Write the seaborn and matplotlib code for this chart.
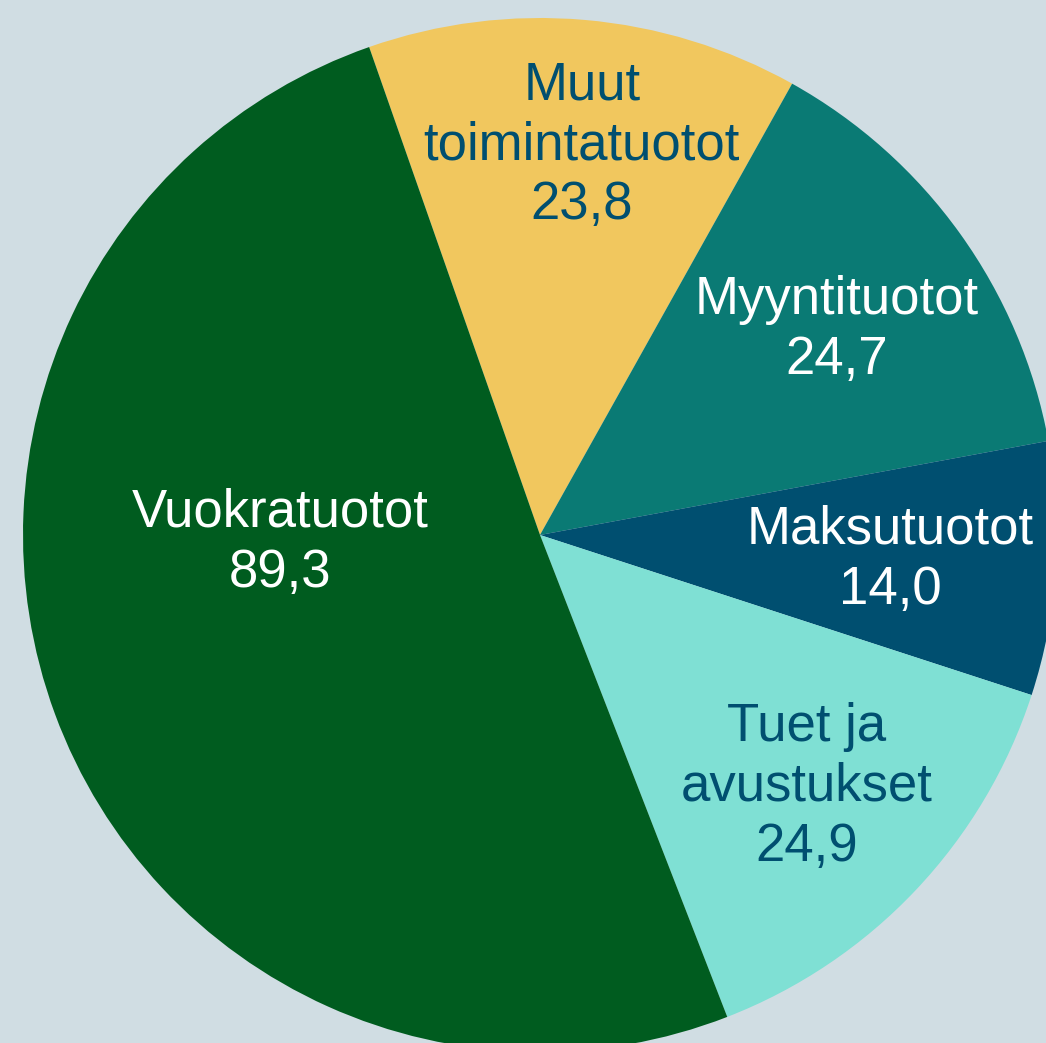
import numpy as np
import matplotlib.pyplot as plt
import seaborn as sns

# tuotot, milj. euroa
names = ["Muut\ntoimintatuotot", "Myyntituotot", "Maksutuotot", "Tuet ja\navustukset", "Vuokratuotot"]
values = [23.8, 24.7, 14.0, 24.9, 89.3]

colors = sns.color_palette(["#F1C75E", "#0A7A74", "#004F70", "#7FE0D4", "#005C1F"])
text_colors = ["#004F70", "white", "white", "#004F70", "white"]
# label centre positions in pie-radius units
label_pos = [(0.081, 0.754), (0.573, 0.397), (0.677, -0.048), (0.515, -0.487), (-0.503, -0.015)]

bg = "#D0DDE3"
sns.set_style("white", {"axes.facecolor": bg, "figure.facecolor": bg})
plt.rcParams['font.family'] = ['Liberation Sans', 'DejaVu Sans']

fig = plt.figure(figsize=(10.46, 10.43), dpi=100)
ax = fig.add_axes([0, 0, 1, 1])
ax.pie(values, colors=colors, startangle=109.3, counterclock=False, radius=1,
       wedgeprops={"linewidth": 0})

for name, v, tc, (x, y) in zip(names, values, text_colors, label_pos):
    ax.text(x, y, f"{name}\n{v:.1f}".replace(".", ","), color=tc, fontsize=38,
            ha="center", va="center", linespacing=1.26)

R = 517
ax.set_xlim(-540 / R, (1046 - 540) / R)
ax.set_ylim(-(1043 - 535) / R, 535 / R)
ax.set_aspect("equal")
ax.axis("off")

fig.savefig("out.png", dpi=100, facecolor=bg)
